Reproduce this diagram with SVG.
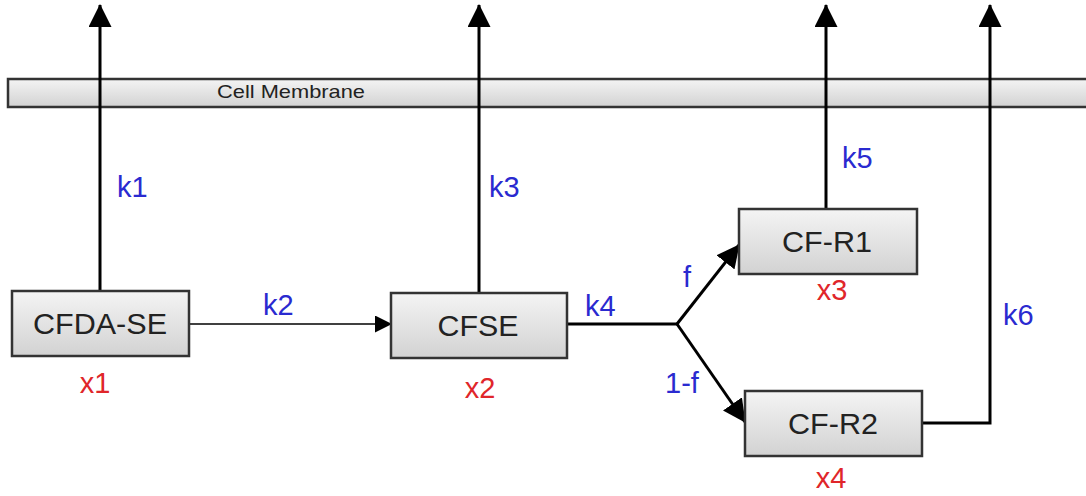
<svg xmlns="http://www.w3.org/2000/svg" width="1086" height="496" viewBox="0 0 1086 496">
  <style>
    .box { fill: url(#boxFill); stroke: #333; stroke-width: 2.5; }
    .name { font-family: "Liberation Sans", Arial, sans-serif; font-size: 29px; fill: #222; text-anchor: middle; }
    .rate { font-family: "Liberation Sans", Arial, sans-serif; font-size: 29px; fill: #2a2ad0; }
    .var { font-family: "Liberation Sans", Arial, sans-serif; font-size: 29px; fill: #e0262a; text-anchor: middle; }
    .flow { fill: none; stroke: #000; stroke-width: 3; }
    .thin { fill: none; stroke: #000; stroke-width: 1.6; }
  </style>
  <defs>
    <linearGradient id="boxFill" x1="0" y1="0" x2="0" y2="1">
      <stop offset="0" stop-color="#f4f4f4"/>
      <stop offset="1" stop-color="#d2d2d2"/>
    </linearGradient>
    <marker id="head" markerUnits="userSpaceOnUse" markerWidth="23" markerHeight="23" refX="22" refY="11.5" orient="auto">
      <path d="M0,0 L23,11.5 L0,23 z" fill="#000"/>
    </marker>
    <marker id="headSmall" markerUnits="userSpaceOnUse" markerWidth="17" markerHeight="17" refX="16" refY="8.5" orient="auto">
      <path d="M0,0 L17,8.5 L0,17 z" fill="#000"/>
    </marker>
  </defs>

  <rect width="1086" height="496" fill="#fff"/>

  <!-- membrane band -->
  <g id="membrane">
    <rect x="8" y="79" width="1090" height="28" fill="url(#boxFill)" stroke="#333" stroke-width="2.5"/>
    <text x="217" y="98" font-family="Liberation Sans, Arial, sans-serif" font-size="19" fill="#222" textLength="148" lengthAdjust="spacingAndGlyphs">Cell Membrane</text>
  </g>

  <!-- connectors -->
  <g id="connectors">
    <path class="flow" d="M100,291 V5" marker-end="url(#head)"/>
    <path class="flow" d="M479,293 V5" marker-end="url(#head)"/>
    <path class="flow" d="M826,209 V5" marker-end="url(#head)"/>
    <path class="flow" d="M922,423 H990 V5" marker-end="url(#head)"/>
    <path class="thin" d="M189,324 H391" marker-end="url(#headSmall)"/>
    <path class="flow" d="M567,324 H677"/>
    <path class="flow" d="M677,324 L739,245" marker-end="url(#head)"/>
    <path class="flow" d="M677,324 L745,422" marker-end="url(#head)"/>
  </g>

  <!-- rate labels -->
  <g id="rates">
    <text class="rate" x="117" y="197">k1</text>
    <text class="rate" x="263" y="315">k2</text>
    <text class="rate" x="489" y="197">k3</text>
    <text class="rate" x="585" y="316">k4</text>
    <text class="rate" x="842" y="168">k5</text>
    <text class="rate" x="1003" y="325">k6</text>
    <text class="rate" x="683" y="287">f</text>
    <text class="rate" x="665" y="393">1-f</text>
  </g>

  <g id="node-cfdase">
    <rect class="box" x="12" y="291" width="177" height="65"/>
    <text class="name" x="100" y="334" textLength="134" lengthAdjust="spacingAndGlyphs">CFDA-SE</text>
    <text class="var" x="95" y="393">x1</text>
  </g>

  <g id="node-cfse">
    <rect class="box" x="391" y="293" width="176" height="65"/>
    <text class="name" x="478" y="336" textLength="81" lengthAdjust="spacingAndGlyphs">CFSE</text>
    <text class="var" x="480" y="398">x2</text>
  </g>

  <g id="node-cfr1">
    <rect class="box" x="739" y="209" width="178" height="65"/>
    <text class="name" x="827" y="252" textLength="90" lengthAdjust="spacingAndGlyphs">CF-R1</text>
    <text class="var" x="832" y="300">x3</text>
  </g>

  <g id="node-cfr2">
    <rect class="box" x="745" y="391" width="177" height="65"/>
    <text class="name" x="833" y="434" textLength="90" lengthAdjust="spacingAndGlyphs">CF-R2</text>
    <text class="var" x="831" y="488">x4</text>
  </g>
</svg>
